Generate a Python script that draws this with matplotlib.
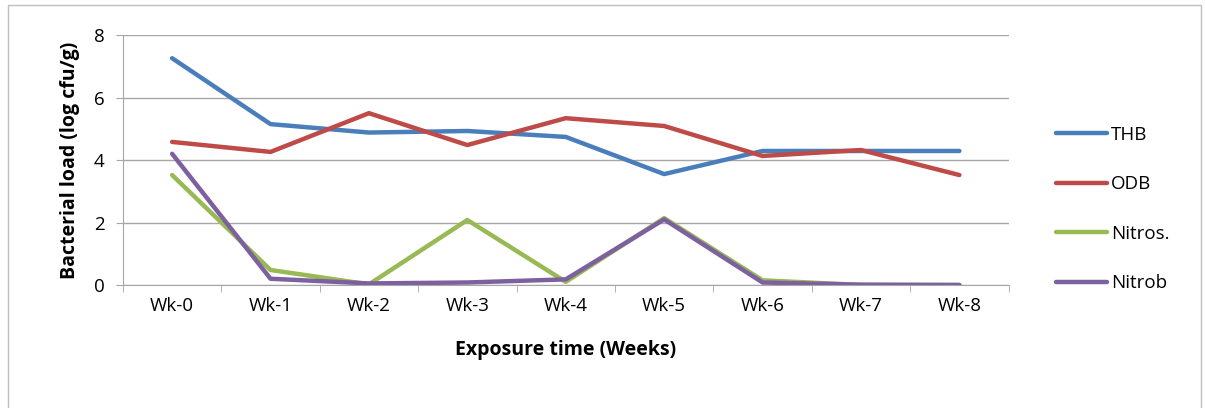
import matplotlib.pyplot as plt
import numpy as np
from matplotlib.patches import Rectangle

weeks = ["Wk-0", "Wk-1", "Wk-2", "Wk-3", "Wk-4", "Wk-5", "Wk-6", "Wk-7", "Wk-8"]
thb = [7.26, 5.15, 4.88, 4.93, 4.74, 3.55, 4.29, 4.29, 4.29]
odb = [4.58, 4.26, 5.50, 4.48, 5.34, 5.09, 4.13, 4.32, 3.52]
nitros = [3.52, 0.48, 0.02, 2.08, 0.10, 2.14, 0.15, 0.0, 0.0]
nitrob = [4.20, 0.20, 0.05, 0.08, 0.18, 2.10, 0.08, 0.01, 0.0]

series = [("THB", thb, "#4A7EBB"),
          ("ODB", odb, "#BE4B48"),
          ("Nitros.", nitros, "#98B954"),
          ("Nitrob", nitrob, "#7D60A0")]

plt.rcParams["font.family"] = ["Open Sans", "DejaVu Sans"]

fig = plt.figure(figsize=(12.05, 4.08), dpi=100)
ax = fig.add_axes([0.102, 0.3015, 0.735, 0.6125])

x = np.arange(len(weeks))
for name, vals, col in series:
    ax.plot(x, vals, color=col, lw=3.2, label=name, solid_capstyle="round")

ax.set_xlim(-0.5, len(weeks) - 0.5)
ax.set_ylim(0, 8)
ax.set_yticks([0, 2, 4, 6, 8])
ax.yaxis.grid(True, color="#A6A6A6", lw=1)
ax.set_axisbelow(True)
ax.set_xticks(x)
ax.set_xticklabels(weeks, fontsize=13.5)
ax.set_xticks(np.arange(-0.5, len(weeks)), minor=True)
ax.tick_params(axis="x", which="major", length=0, pad=9)
ax.tick_params(axis="x", which="minor", length=5, color="#A6A6A6")
ax.tick_params(axis="y", length=5, color="#A6A6A6", labelsize=13.5, pad=8)
for s in ["top", "right"]:
    ax.spines[s].set_visible(False)
ax.spines["left"].set_color("#A6A6A6")
ax.spines["bottom"].set_color("#A6A6A6")

ax.set_xlabel("Exposure time (Weeks)", fontsize=14, fontweight="bold", labelpad=18)
ax.set_ylabel("Bacterial load (log cfu/g)", fontsize=14, fontweight="bold", labelpad=10)

ax.legend(loc="upper left", bbox_to_anchor=(1.035, 0.705), frameon=False,
          fontsize=13.5, handlelength=2.7, handletextpad=0.2, labelspacing=1.68)

fig.patches.append(Rectangle((0.007, -0.02), 0.99, 1.008, transform=fig.transFigure,
                             fill=False, edgecolor="#BFBFBF", lw=1))

fig.savefig("out.png", dpi=100)
